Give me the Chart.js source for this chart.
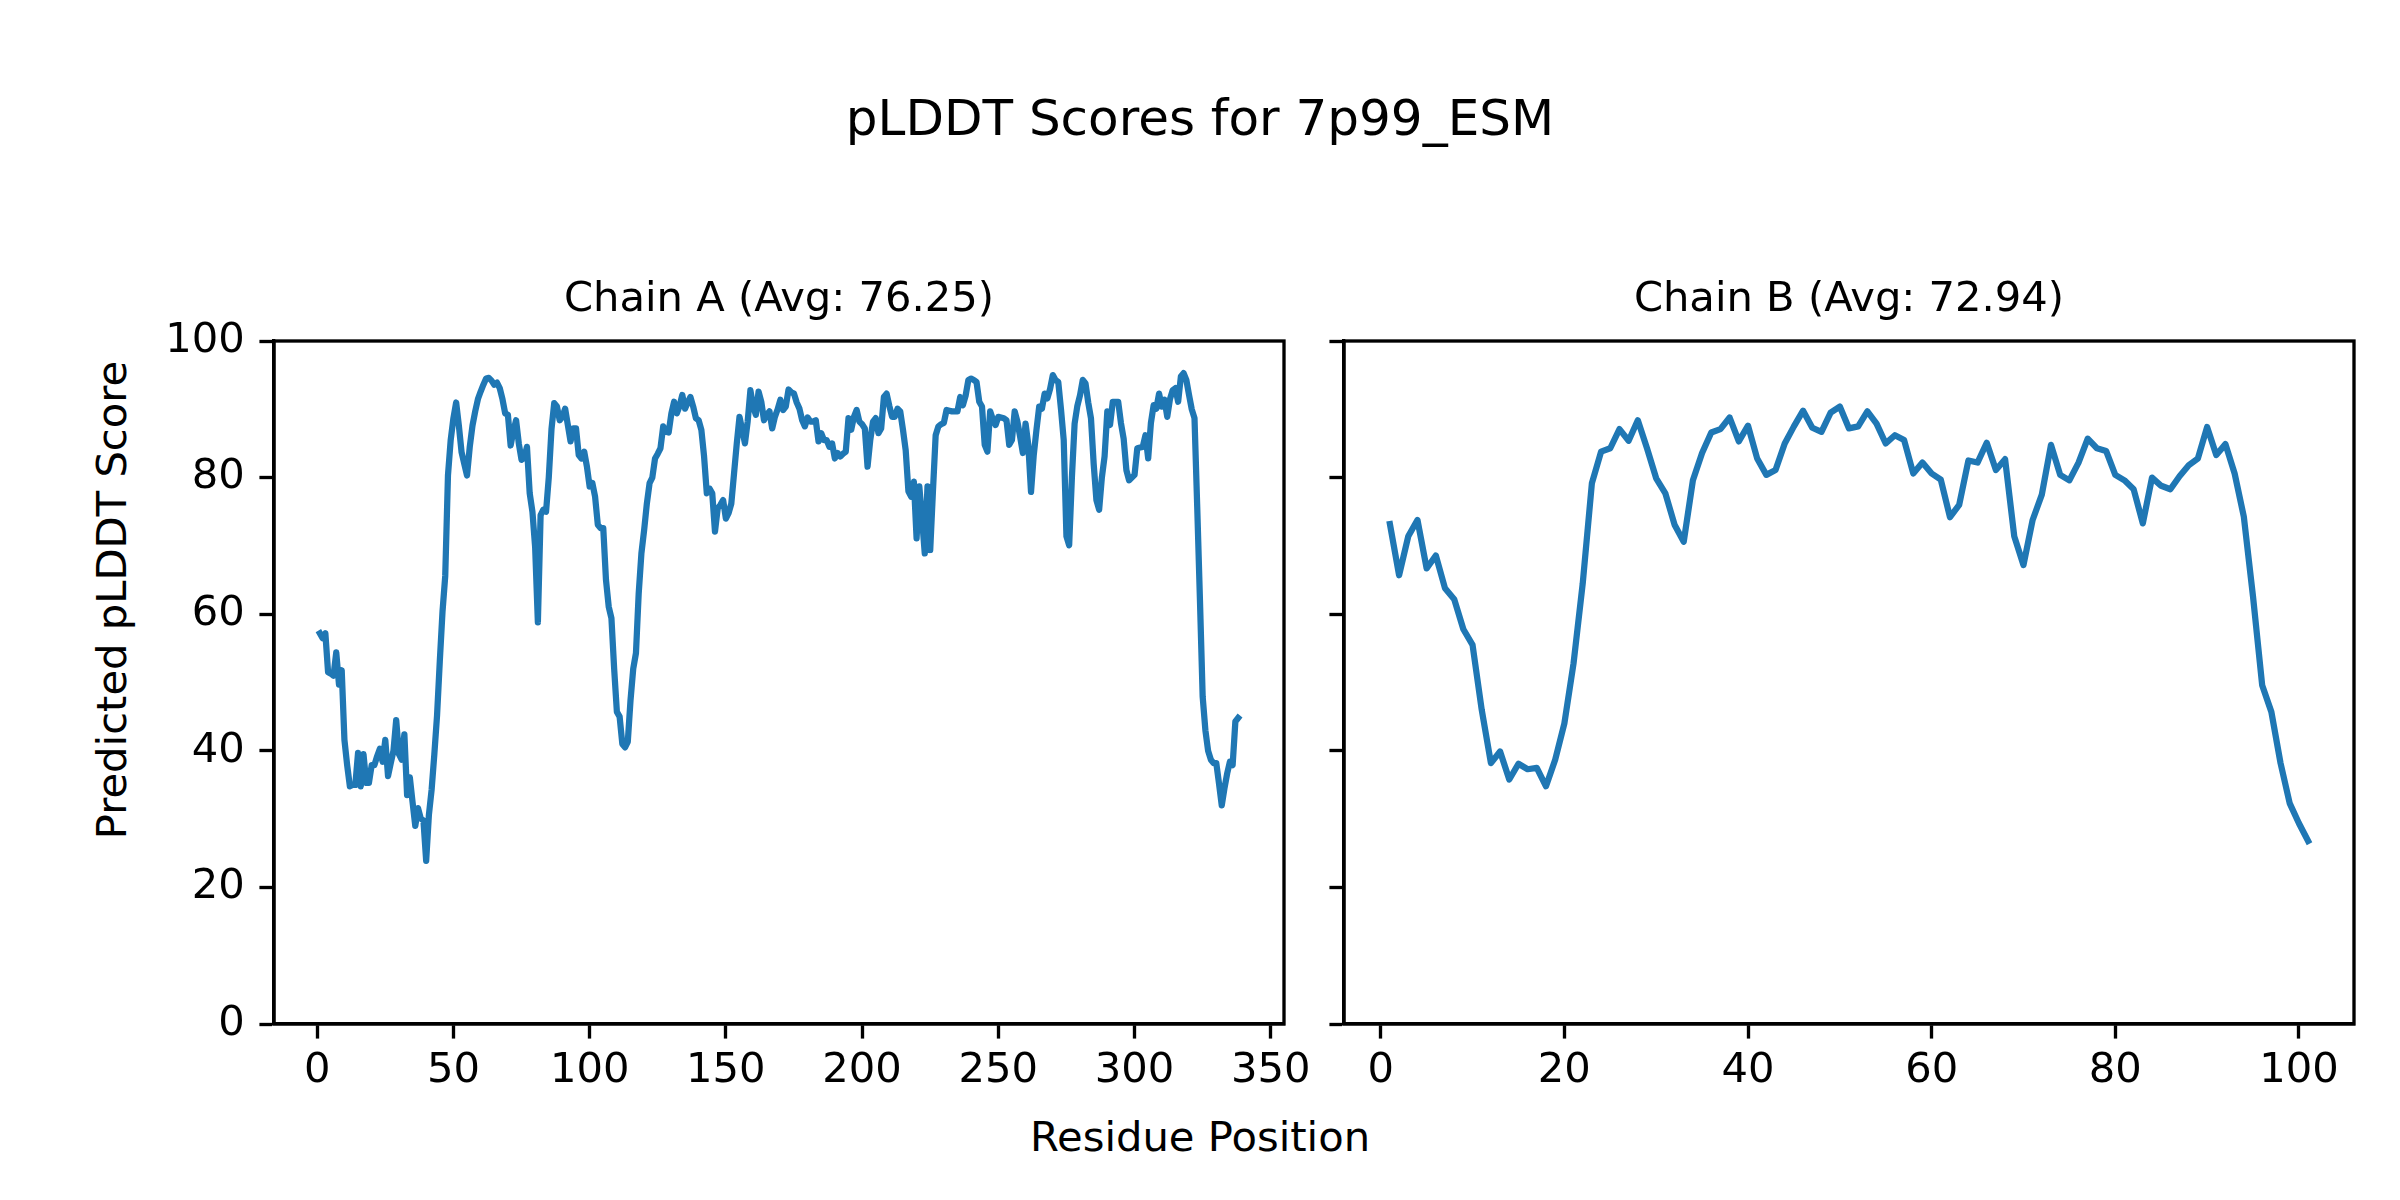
<!DOCTYPE html>
<html>
<head>
<meta charset="utf-8">
<title>pLDDT Scores for 7p99_ESM</title>
<script src="https://cdn.jsdelivr.net/npm/chart.js@4.4.1/dist/chart.umd.min.js"></script>
<style>
  html, body { margin: 0; padding: 0; background: #fff; }
  body { width: 2400px; height: 1200px; position: relative; overflow: hidden; font-family: 'DejaVu Sans', sans-serif; color: #000; }
  canvas { position: absolute; top: 0; }
  #chartA { left: 0; }
  #chartB { left: 1300px; }
  .label { position: absolute; white-space: nowrap; line-height: 1; transform: translate(-50%, -50%); }
  #suptitle { left: 1200px; top: 118px; font-size: 50px; }
  #xlabel { left: 1200px; top: 1137px; font-size: 41.7px; }
  #ylabel { left: 112px; top: 600px; font-size: 41.7px; transform: translate(-50%, -50%) rotate(-90deg); }
</style>
</head>
<body>
<div id="suptitle" class="label">pLDDT Scores for 7p99_ESM</div>
<div id="ylabel" class="label">Predicted pLDDT Score</div>
<div id="xlabel" class="label">Residue Position</div>
<canvas id="chartA" width="1340" height="1200"></canvas>
<canvas id="chartB" width="1100" height="1200"></canvas>
<script>
// per-residue scores, residue 1..N
const chainAScores = [
    57.2, 56.5, 57.2, 51.5, 51.3, 51.0, 54.4, 49.7, 51.8, 41.6,
    37.9, 34.8, 35.0, 35.0, 39.7, 34.8, 39.5, 35.3, 35.3, 37.9,
    37.9, 39.2, 40.3, 38.4, 41.6, 36.3, 38.2, 40.0, 44.5, 39.5,
    38.7, 42.4, 33.5, 36.1, 32.5, 29.0, 31.6, 30.1, 29.8, 23.9,
    30.6, 34.3, 39.5, 45.2, 53.1, 60.4, 65.6, 80.3, 85.5, 88.7,
    91.0, 87.6, 83.7, 82.0, 80.3, 84.5, 87.6, 89.7, 91.5, 92.6,
    93.6, 94.5, 94.6, 94.2, 93.6, 93.9, 93.1, 91.5, 89.4, 89.2,
    84.7, 86.8, 88.4, 85.0, 82.6, 82.9, 84.5, 77.7, 75.0, 69.8,
    58.8, 74.5, 75.3, 75.0, 80.0, 87.1, 90.9, 90.4, 88.4, 88.9,
    90.1, 87.7, 85.3, 87.2, 87.2, 83.3, 82.8, 83.8, 81.6, 78.7,
    79.2, 77.2, 73.1, 72.6, 72.6, 65.0, 61.1, 59.4, 52.0, 45.7,
    45.0, 41.0, 40.5, 41.3, 47.4, 52.0, 54.3, 63.0, 68.9, 72.3,
    76.2, 79.2, 80.0, 82.8, 83.5, 84.3, 87.5, 86.7, 86.6, 89.4,
    91.1, 89.4, 90.5, 92.1, 90.1, 91.0, 91.8, 90.4, 88.7, 88.4,
    87.0, 83.1, 77.7, 78.4, 77.7, 72.1, 75.5, 76.0, 76.7, 74.0,
    74.8, 76.2, 80.6, 85.0, 88.9, 87.0, 85.0, 88.2, 92.8, 90.4,
    89.2, 92.6, 91.1, 88.4, 89.2, 89.7, 87.2, 88.9, 90.0, 91.4,
    89.9, 90.4, 92.9, 92.5, 92.3, 91.0, 90.1, 88.4, 87.5, 88.8,
    88.2, 88.2, 88.4, 85.3, 86.5, 85.5, 85.5, 84.5, 85.0, 82.8,
    83.6, 83.1, 83.5, 83.8, 88.7, 87.0, 88.9, 89.9, 88.2, 87.8,
    87.2, 81.6, 85.5, 88.2, 88.7, 86.5, 87.2, 91.8, 92.3, 90.5,
    88.9, 88.9, 90.1, 89.7, 87.0, 84.0, 78.0, 77.2, 79.4, 71.1,
    78.7, 74.0, 68.9, 78.7, 69.4, 78.0, 86.2, 87.5, 87.8, 88.0,
    89.9, 89.8, 89.7, 89.7, 89.7, 91.8, 90.6, 92.0, 94.3, 94.5,
    94.3, 94.0, 91.1, 90.4, 84.8, 83.8, 89.7, 88.5, 87.7, 88.9,
    88.8, 88.7, 88.4, 84.8, 85.5, 89.7, 88.2, 86.0, 83.6, 87.9,
    84.8, 77.9, 83.3, 87.0, 90.4, 90.1, 92.3, 91.6, 93.0, 95.0,
    94.3, 94.0, 90.0, 85.5, 71.4, 70.1, 80.0, 87.9, 90.5, 92.1,
    94.3, 93.8, 91.0, 88.7, 82.0, 76.7, 75.3, 80.0, 83.1, 89.7,
    87.7, 91.1, 91.1, 91.1, 88.0, 85.7, 81.1, 79.6, 80.0, 80.4,
    84.3, 84.4, 84.5, 86.2, 82.8, 88.0, 90.6, 90.1, 92.3, 90.4,
    91.4, 88.9, 91.5, 92.8, 93.1, 91.1, 94.8, 95.3, 94.3, 92.1,
    90.0, 88.7, 75.7, 62.1, 47.9, 43.0, 40.0, 38.7, 38.2, 38.2,
    35.2, 32.0, 34.5, 36.7, 38.4, 37.9, 44.3, 44.8
];

const chainBScores = [
    73.2, 65.7, 71.4, 73.8, 66.7, 68.6, 63.8, 62.2, 57.8, 55.5,
    46.0, 38.2, 39.9, 35.8, 38.1, 37.3, 37.5, 34.8, 38.7, 44.0,
    52.8, 64.5, 79.2, 83.8, 84.3, 87.1, 85.4, 88.4, 84.3, 79.9,
    77.7, 73.1, 70.6, 79.6, 83.6, 86.6, 87.1, 88.8, 85.3, 87.6,
    82.8, 80.4, 81.1, 85.0, 87.5, 89.8, 87.3, 86.7, 89.5, 90.4,
    87.2, 87.5, 89.7, 87.9, 85.0, 86.2, 85.5, 80.6, 82.2, 80.6,
    79.7, 74.2, 76.0, 82.5, 82.2, 85.1, 81.1, 82.7, 71.4, 67.2,
    73.8, 77.5, 84.8, 80.4, 79.6, 82.2, 85.7, 84.3, 83.9, 80.4,
    79.6, 78.3, 73.3, 80.0, 78.8, 78.3, 80.2, 81.8, 82.8, 87.4,
    83.3, 84.9, 80.6, 74.3, 62.6, 49.6, 45.7, 38.2, 32.3, 29.4,
    26.8
];

const chainATitle = 'Chain A (Avg: 76.25)';
const chainBTitle = 'Chain B (Avg: 72.94)';
const chainAXTicks = [0, 50, 100, 150, 200, 250, 300, 350];
const chainBXTicks = [0, 20, 40, 60, 80, 100];
const scoreTicks = [0, 20, 40, 60, 80, 100];

const PT = 300 / 72;   // original figure was saved at 300 dpi
const LINE_COLOR = '#1f77b4';

Chart.defaults.font.family = 'DejaVu Sans';
Chart.defaults.color = '#000';

// matplotlib style box around the axes
const framePlugin = {
    id: 'frame',
    afterDatasetsDraw(chart) {
        const { ctx, chartArea: a } = chart;
        ctx.save();
        ctx.strokeStyle = '#000';
        ctx.lineWidth = 0.8 * PT;
        ctx.strokeRect(a.left, a.top, a.right - a.left, a.bottom - a.top);
        ctx.restore();
    }
};

const gridOpts = {
    display: true,
    drawOnChartArea: false,
    drawTicks: true,
    tickLength: 3.5 * PT,
    tickWidth: 0.8 * PT,
    tickColor: '#000'
};
const borderOpts = { display: true, color: '#000', width: 0.8 * PT };

function makeChart(id, scores, title, xTicks, xMin, xMax, yWidth, showYLabels, padding) {
    const ctx = document.getElementById(id).getContext('2d');
    return new Chart(ctx, {
        type: 'line',
        data: {
            datasets: [{
                data: scores.map((v, i) => ({ x: i + 1, y: v })),
                borderColor: LINE_COLOR,
                borderWidth: 1.5 * PT,
                borderJoinStyle: 'round',
                borderCapStyle: 'square',
                pointRadius: 0,
                tension: 0,
                fill: false
            }]
        },
        options: {
            responsive: false,
            animation: false,
            devicePixelRatio: 1,
            layout: { padding: padding },
            plugins: {
                legend: { display: false },
                tooltip: { enabled: false },
                title: {
                    display: true,
                    fullSize: false,   // center over the plot area, not the canvas
                    text: title,
                    color: '#000',
                    font: { size: 10 * PT, weight: 'normal' },
                    padding: { top: 0, bottom: 16 }
                }
            },
            scales: {
                x: {
                    type: 'linear',
                    min: xMin,
                    max: xMax,
                    afterBuildTicks: s => { s.ticks = xTicks.map(v => ({ value: v })); },
                    afterFit: s => { s.height = 100; },
                    grid: gridOpts,
                    border: borderOpts,
                    ticks: { font: { size: 10 * PT }, color: '#000', padding: 8, maxRotation: 0, autoSkip: false }
                },
                y: {
                    min: 0,
                    max: 100,
                    afterBuildTicks: s => { s.ticks = scoreTicks.map(v => ({ value: v })); },
                    afterFit: s => { s.width = yWidth; },
                    grid: gridOpts,
                    border: borderOpts,
                    ticks: { display: showYLabels, font: { size: 10 * PT }, color: '#000', padding: 3.5 * PT, autoSkip: false }
                }
            }
        },
        plugins: [framePlugin]
    });
}

makeChart('chartA', chainAScores, chainATitle, chainAXTicks, -15.85, 354.85, 174, true,
    { left: 100, right: 56, top: 275, bottom: 76 });
makeChart('chartB', chainBScores, chainBTitle, chainBXTicks, -4, 106, 30, false,
    { left: 14, right: 46, top: 275, bottom: 76 });
</script>
</body>
</html>
